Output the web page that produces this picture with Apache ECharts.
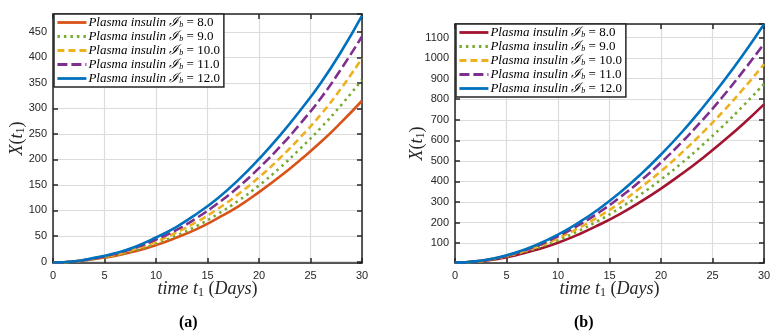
<!DOCTYPE html>
<html>
<head>
<meta charset="utf-8">
<script src="https://cdn.jsdelivr.net/npm/echarts@6/dist/echarts.min.js"></script>
<style>
  html, body { margin: 0; padding: 0; background: #fff; }
  #chart { width: 779px; height: 336px; }
</style>
</head>
<body>
<div id="chart"></div>
<script>
// time points (days)
var tDays = [0, 2, 4, 6, 8, 10, 12, 14, 16, 18, 20, 22, 24, 26, 28, 30];
var levels = ['8.0', '9.0', '10.0', '11.0', '12.0'];

// panel (a)
var a_8 = [-2, 0, 5, 11, 20, 32, 47, 64, 85, 108, 136, 166, 199, 234, 273, 315];
var a_9 = [-2, 0, 5, 12, 22, 35, 51, 70, 93, 119, 149, 183, 221, 262, 307, 356];
var a_10 = [-2, 0, 6, 13, 25, 39, 57, 78, 103, 132, 165, 202, 243, 288, 340, 398];
var a_11 = [-2, 0, 6, 15, 27, 43, 62, 86, 114, 146, 183, 224, 270, 320, 378, 441];
var a_12 = [-2, 0, 7, 16, 29, 47, 68, 94, 124, 160, 201, 246, 296, 350, 412, 482];

// panel (b)
var b_8 = [5, 10, 22, 42, 69, 102, 142, 189, 241, 300, 365, 436, 512, 594, 681, 775];
var b_9 = [5, 10, 24, 47, 77, 114, 159, 211, 270, 336, 409, 489, 576, 669, 769, 875];
var b_10 = [5, 10, 26, 50, 82, 123, 173, 230, 295, 369, 450, 539, 635, 739, 851, 970];
var b_11 = [5, 11, 27, 53, 88, 133, 187, 250, 322, 402, 492, 590, 697, 813, 938, 1070];
var b_12 = [5, 11, 28, 55, 93, 141, 199, 267, 345, 433, 531, 638, 756, 883, 1019, 1165];

var colorsA = ['#D95319', '#77AC30', '#EDB120', '#7E2F8E', '#0072BD'];
var colorsB = ['#A2142F', '#77AC30', '#EDB120', '#7E2F8E', '#0072BD'];
var dashes = ['solid', [2.5, 4], [7, 4], [10, 4], 'solid'];

function pairs(vals) {
    return tDays.map(function (t, i) { return [t, vals[i]]; });
}

var dom = document.getElementById('chart');
var myChart = echarts.init(dom, null, { renderer: 'canvas' });

var serif = 'Liberation Serif';
var sans = 'Liberation Sans';

function legendFmt(name) {
    return '{i|Plasma insulin }{m|\u2110}{s|b}{n| = ' + name.slice(2) + '}';
}
var legendRich = {
    i: { fontFamily: serif, fontStyle: 'italic', fontSize: 13, color: '#000', lineHeight: 13 },
    m: { fontFamily: serif, fontStyle: 'italic', fontSize: 13, color: '#000', lineHeight: 13 },
    s: { fontFamily: serif, fontStyle: 'italic', fontSize: 8, color: '#000', lineHeight: 13, padding: [4, 0, 0, 0] },
    n: { fontFamily: serif, fontSize: 13, color: '#000', lineHeight: 13 }
};
var nameRich = {
    i: { fontFamily: serif, fontStyle: 'italic', fontSize: 18, color: '#262626' },
    n: { fontFamily: serif, fontSize: 18, color: '#262626' },
    s: { fontFamily: serif, fontSize: 12, color: '#262626', padding: [8, 0, 0, 0] }
};

function makeLegend(prefix, left, top) {
    return {
        orient: 'vertical',
        left: left,
        top: top,
        data: levels.map(function (l) { return prefix + l; }),
        itemWidth: 29,
        itemHeight: 10,
        itemGap: 1,
        padding: [2, 4, 2, 2],
        backgroundColor: '#fff',
        borderColor: '#262626',
        borderWidth: 1.5,
        borderRadius: 0,
        itemStyle: { opacity: 0 },
        lineStyle: { width: 2.8 },
        formatter: legendFmt,
        textStyle: { rich: legendRich, lineHeight: 13, padding: [0, 0, 0, -3] }
    };
}

function xAx(gi, main) {
    return {
        type: 'value', gridIndex: gi, min: 0, max: 30, interval: 5,
        position: main ? 'bottom' : 'top',
        name: main ? '{i|time t}{s|1}{n| (}{i|Days}{n|)}' : '',
        nameLocation: 'middle', nameGap: 16, nameMoveOverlap: false,
        nameTextStyle: { rich: nameRich },
        axisLine: { show: true, onZero: false, lineStyle: { color: '#262626', width: 1.5 } },
        axisTick: { show: true, inside: true, length: 5, lineStyle: { color: '#262626', width: 1.5 } },
        axisLabel: { show: main, color: '#262626', fontFamily: sans, fontSize: 11, margin: 7 },
        splitLine: { show: main, lineStyle: { color: '#dcdcdc', width: 1.2 } }
    };
}

function yAx(gi, main, mn, mx, split, gap) {
    return {
        type: 'value', gridIndex: gi, min: mn, max: mx, splitNumber: split,
        position: main ? 'left' : 'right',
        name: main ? '{i|X}{n|(}{i|t}{s|1}{n|)}' : '',
        nameLocation: 'middle', nameGap: gap, nameMoveOverlap: false,
        nameTextStyle: { rich: nameRich },
        axisLine: { show: true, onZero: false, lineStyle: { color: '#262626', width: 1.5 } },
        axisTick: { show: true, inside: true, length: 5, lineStyle: { color: '#262626', width: 1.5 } },
        axisLabel: {
            show: main, color: '#262626', fontFamily: sans, fontSize: 11, margin: 6,
            showMinLabel: false, showMaxLabel: false,
            formatter: function (v) { return (v % 50 === 0) ? String(v) : ''; }
        },
        splitLine: { show: main, lineStyle: { color: '#dcdcdc', width: 1.2 } }
    };
}

var series = [];
var setsA = [a_8, a_9, a_10, a_11, a_12];
var setsB = [b_8, b_9, b_10, b_11, b_12];
setsA.forEach(function (vals, i) {
    series.push({
        name: 'A ' + levels[i], type: 'line', xAxisIndex: 0, yAxisIndex: 0,
        data: pairs(vals), smooth: true, symbol: 'none', z: 3 + i,
        color: colorsA[i],
        lineStyle: { color: colorsA[i], width: 2.6, type: dashes[i] }
    });
});
setsB.forEach(function (vals, i) {
    series.push({
        name: 'B ' + levels[i], type: 'line', xAxisIndex: 2, yAxisIndex: 2,
        data: pairs(vals), smooth: true, symbol: 'none', z: 3 + i,
        color: colorsB[i],
        lineStyle: { color: colorsB[i], width: 2.6, type: dashes[i] }
    });
});

option = {
    animation: false,
    backgroundColor: '#fff',
    grid: [
        { left: 53, top: 14, width: 309, height: 249 },
        { left: 455, top: 24, width: 309, height: 239 }
    ],
    legend: [makeLegend('A ', 54, 14), makeLegend('B ', 456, 24)],
    xAxis: [xAx(0, true), xAx(0, false), xAx(1, true), xAx(1, false)],
    yAxis: [yAx(0, true, -3, 485, 10, 26), yAx(0, false, -3, 485, 10, 26),
            yAx(1, true, 3, 1166, 11, 28), yAx(1, false, 3, 1166, 11, 28)],
    series: series,
    graphic: [
        { type: 'text', left: 179, top: 315, style: { text: '(a)', font: 'bold 16px "Liberation Serif"', fill: '#000' } },
        { type: 'text', left: 574, top: 315, style: { text: '(b)', font: 'bold 16px "Liberation Serif"', fill: '#000' } }
    ]
};
myChart.setOption(option, true);
</script>
</body>
</html>
